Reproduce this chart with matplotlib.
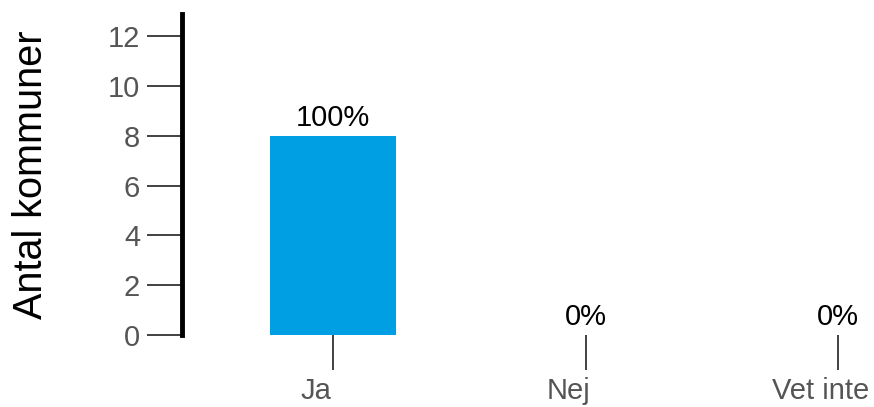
import matplotlib.pyplot as plt
from matplotlib.transforms import ScaledTranslation

# data
categories = ['Ja', 'Nej', 'Vet inte']
counts = [8, 0, 0]
percent_labels = ['100%', '0%', '0%']

plt.rcParams['font.family'] = ['Liberation Sans', 'DejaVu Sans']

fig = plt.figure(figsize=(8.74, 4.07), dpi=100)
ax = fig.add_axes([0.208, 0.177, 0.794, 0.789])

x = list(range(len(categories)))
bars = ax.bar(x, counts, width=0.5, color='#009fe3')

for b, lab in zip(bars, percent_labels):
    ax.annotate(lab, (b.get_x() + b.get_width() / 2, b.get_height()),
                xytext=(0, 3), textcoords='offset points',
                ha='center', va='bottom', fontsize=21, color='black')

ax.set_xlim(-0.6, 2.15)
ax.set_ylim(0, 12.9)
ax.set_yticks(range(0, 13, 2))
ax.set_xticks(x)
ax.set_xticklabels(categories)

for s in ['top', 'right', 'bottom']:
    ax.spines[s].set_visible(False)
ax.spines['left'].set_linewidth(3.5)
ax.spines['left'].set_color('black')

ax.tick_params(axis='both', length=25, width=1.3, color='#333333',
               labelsize=21, labelcolor='#555555', pad=5)

# x labels sit a little left of their ticks in the reference
shift = ScaledTranslation(-17 / 100, 0, fig.dpi_scale_trans)
for lbl in ax.get_xticklabels():
    lbl.set_transform(lbl.get_transform() + shift)

ax.set_ylabel('Antal kommuner', fontsize=28.5, color='black')
ax.yaxis.set_label_coords(-0.19, 0.5)

fig.savefig('out.png', dpi=100)
